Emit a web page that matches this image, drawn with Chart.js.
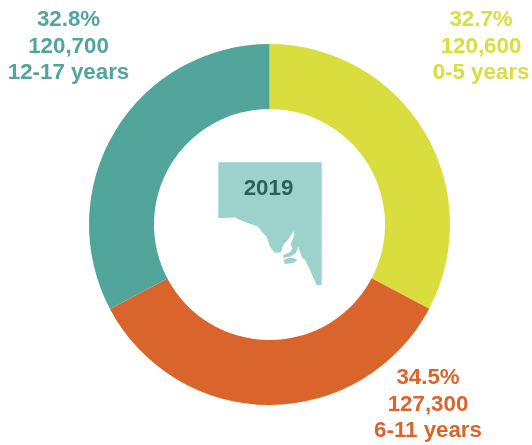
<!DOCTYPE html>
<html>
<head>
<meta charset="utf-8">
<style>html,body{margin:0;padding:0;background:#fff}canvas{display:block}</style>
<script src="https://cdn.jsdelivr.net/npm/chart.js@4"></script>
</head>
<body>
<canvas id="c" width="532" height="445"></canvas>
<script>
const categories = ["0-5 years", "6-11 years", "12-17 years"];
const counts = [120600, 127300, 120700];
const countLabels = ["120,600", "127,300", "120,700"];
const percentLabels = ["32.7%", "34.5%", "32.8%"];
const colors = ["#D9DE3E", "#D9652C", "#52A59B"];
const labelCentres = [[481, 20], [428, 378], [68.5, 20]];
const yearLabel = "2019";

// Decorative outline of South Australia behind the year label
const mapMain = [[218.3,162.3],[321.7,162.3],[321.7,285],[316.7,285],[313,277],[310,270],[305,260],[301.7,257],[298.3,246.7],[296,253],[290,256.7],[283.3,257.7],[283.3,255],[290,252.3],[292.5,248.3],[290.5,245],[294.3,235],[293.7,231],[288.3,239.3],[283.3,245],[281,252.5],[274.3,252.5],[270,246.7],[266.7,236.7],[261.7,231.7],[258.3,226.7],[248.3,223.3],[240,220],[235,217.3],[218.3,218.3]];
const mapIsland = [[283.3,260],[288.3,258],[293.3,258],[297.5,260],[293.3,263],[285,264]];

function poly(ctx, pts) {
  ctx.beginPath();
  pts.forEach((p, i) => { i ? ctx.lineTo(p[0], p[1]) : ctx.moveTo(p[0], p[1]); });
  ctx.closePath();
  ctx.fill();
}

const annotations = {
  id: "annotations",
  afterDraw(chart) {
    const ctx = chart.ctx;
    ctx.save();
    ctx.fillStyle = "#9DD1CB";
    poly(ctx, mapMain);
    poly(ctx, mapIsland);
    ctx.textAlign = "center";
    ctx.textBaseline = "middle";
    ctx.font = "bold 22.3px 'Liberation Sans'";
    ctx.fillStyle = "#2A5F5A";
    ctx.fillText(yearLabel, 268.5, 188.5);
    categories.forEach((c, i) => {
      const [x, y] = labelCentres[i];
      ctx.fillStyle = colors[i];
      ctx.fillText(percentLabels[i], x, y);
      ctx.fillText(countLabels[i], x, y + 26.5);
      ctx.fillText(c, x, y + 53);
    });
    ctx.restore();
  }
};

new Chart(document.getElementById("c"), {
  type: "doughnut",
  data: {
    labels: categories,
    datasets: [{ data: counts, backgroundColor: colors, borderWidth: 0 }]
  },
  options: {
    responsive: false,
    animation: false,
    cutout: "64%",
    layout: { padding: { left: 89, right: 82, top: 44, bottom: 40 } },
    plugins: { legend: { display: false }, tooltip: { enabled: false } }
  },
  plugins: [annotations]
});
</script>
</body>
</html>
